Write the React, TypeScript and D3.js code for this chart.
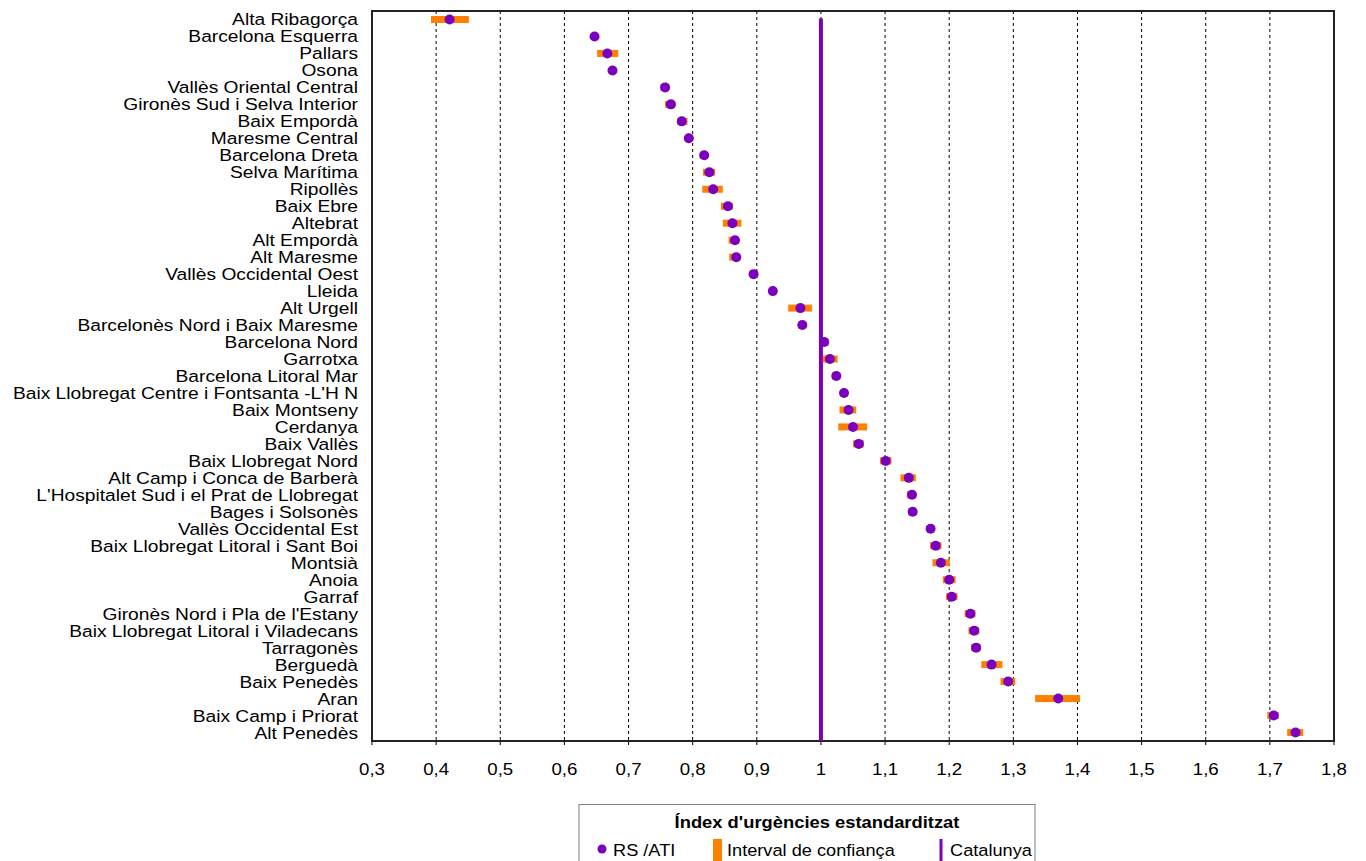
import React from "react";
import * as d3 from "d3";

const categories: string[] = [
  "Alta Ribagorça",
  "Barcelona Esquerra",
  "Pallars",
  "Osona",
  "Vallès Oriental Central",
  "Gironès Sud i Selva Interior",
  "Baix Empordà",
  "Maresme Central",
  "Barcelona Dreta",
  "Selva Marítima",
  "Ripollès",
  "Baix Ebre",
  "Altebrat",
  "Alt Empordà",
  "Alt Maresme",
  "Vallès Occidental Oest",
  "Lleida",
  "Alt Urgell",
  "Barcelonès Nord i Baix Maresme",
  "Barcelona Nord",
  "Garrotxa",
  "Barcelona Litoral Mar",
  "Baix Llobregat Centre i Fontsanta -L'H N",
  "Baix Montseny",
  "Cerdanya",
  "Baix Vallès",
  "Baix Llobregat Nord",
  "Alt Camp i Conca de Barberà",
  "L'Hospitalet Sud i el Prat de Llobregat",
  "Bages i Solsonès",
  "Vallès Occidental Est",
  "Baix Llobregat Litoral i Sant Boi",
  "Montsià",
  "Anoia",
  "Garraf",
  "Gironès Nord i Pla de l'Estany",
  "Baix Llobregat Litoral i Viladecans",
  "Tarragonès",
  "Berguedà",
  "Baix Penedès",
  "Aran",
  "Baix Camp i Priorat",
  "Alt Penedès",
];

const rsAti: number[] = [
  0.421, 0.647, 0.667, 0.675, 0.757, 0.766, 0.783, 0.794, 0.818, 0.826,
  0.832, 0.855, 0.862, 0.866, 0.868, 0.895, 0.925, 0.968, 0.971, 1.005,
  1.014, 1.024, 1.036, 1.043, 1.05, 1.059, 1.101, 1.137, 1.142, 1.143,
  1.171, 1.179, 1.187, 1.2, 1.204, 1.233, 1.239, 1.242, 1.266, 1.292,
  1.37, 1.706, 1.74,
];

const ciLow: number[] = [
  0.392, 0.644, 0.651, 0.672, 0.75, 0.757, 0.776, 0.788, 0.811, 0.816,
  0.815, 0.844, 0.847, 0.856, 0.857, 0.889, 0.921, 0.949, 0.965, 1.0,
  1.003, 1.017, 1.032, 1.029, 1.027, 1.05, 1.092, 1.124, 1.134, 1.136,
  1.166, 1.17, 1.174, 1.19, 1.195, 1.224, 1.23, 1.234, 1.25, 1.28,
  1.334, 1.696, 1.727,
];

const ciHigh: number[] = [
  0.451, 0.65, 0.684, 0.678, 0.762, 0.773, 0.792, 0.797, 0.822, 0.835,
  0.847, 0.863, 0.876, 0.872, 0.874, 0.897, 0.929, 0.986, 0.975, 1.012,
  1.026, 1.03, 1.04, 1.055, 1.072, 1.067, 1.11, 1.148, 1.148, 1.149,
  1.175, 1.188, 1.201, 1.21, 1.213, 1.241, 1.247, 1.249, 1.283, 1.303,
  1.404, 1.714, 1.752,
];

const catalunya = 1;
const xDomain: [number, number] = [0.3, 1.8];
const xTickValues: number[] = [0.3, 0.4, 0.5, 0.6, 0.7, 0.8, 0.9, 1, 1.1, 1.2, 1.3, 1.4, 1.5, 1.6, 1.7, 1.8];

const legendTitle = "Índex d'urgències estandarditzat";
const legendLabels = ["RS /ATI", "Interval de confiança", "Catalunya"];

const PURPLE = "#7a00bd";
const ORANGE = "#ff8000";
const FONT = "'Liberation Sans', Arial, sans-serif";
const FS = 17;

const locale = d3.formatLocale({ decimal: ",", thousands: ".", grouping: [3], currency: ["", "€"] });
const fmt = locale.format(".1~f");

function T(props: { x: number; y: number; anchor?: string; bold?: boolean; sx?: number; children: React.ReactNode }) {
  return (
    <text
      transform={`translate(${props.x},${props.y}) scale(${props.sx || 1.1},1)`}
      textAnchor={props.anchor || "start"}
      fontSize={FS}
      fontWeight={props.bold ? "bold" : "normal"}
      fill="#000"
    >
      {props.children}
    </text>
  );
}

export default function App() {
  const W = 1366;
  const H = 861;
  const left = 372;
  const right = 1334;
  const top = 11;
  const bottom = 741;

  const x = d3.scaleLinear().domain(xDomain).range([left, right]);
  const y = d3.scaleBand<string>().domain(categories).range([top, bottom]).padding(0);
  const yc = (c: string) => (y(c) as number) + y.bandwidth() / 2;

  return (
    <svg width={W} height={H} style={{ position: "absolute", left: 0, top: 0, background: "#fff" }} fontFamily={FONT}>
      <rect x={0} y={0} width={W} height={H} fill="#fff" />
      {xTickValues.slice(1, -1).map((t) => (
        <line key={"g" + t} x1={x(t)} x2={x(t)} y1={top} y2={bottom} stroke="#000" strokeWidth={1} strokeDasharray="3,3" />
      ))}
      {xTickValues.map((t) => (
        <line key={"tm" + t} x1={x(t)} x2={x(t)} y1={bottom} y2={bottom + 4} stroke="#000" strokeWidth={1} />
      ))}
      <rect x={left} y={top} width={right - left} height={bottom - top} fill="none" stroke="#222" strokeWidth={2} />
      <line x1={x(catalunya)} x2={x(catalunya)} y1={yc(categories[0]) - 1} y2={bottom} stroke={PURPLE} strokeWidth={4} />
      {categories.map((c, i) => (
        <rect key={"ci" + i} x={x(ciLow[i])} y={yc(c) - 3.5} width={Math.max(0, x(ciHigh[i]) - x(ciLow[i]))} height={7} fill={ORANGE} />
      ))}
      {categories.map((c, i) => (
        <circle key={"p" + i} cx={x(rsAti[i])} cy={yc(c)} r={5} fill={PURPLE} />
      ))}
      {categories.map((c, i) => (
        <T key={"l" + i} x={358} y={yc(c) + 6} anchor="end" sx={1.13}>
          {c}
        </T>
      ))}
      {xTickValues.map((t) => (
        <T key={"tl" + t} x={x(t)} y={775} anchor="middle">
          {fmt(t)}
        </T>
      ))}
      <g>
        <rect x={579} y={804.5} width={456} height={70} fill="#fff" stroke="#808080" strokeWidth={1} />
        <T x={817} y={828} anchor="middle" bold sx={1.08}>
          {legendTitle}
        </T>
        <circle cx={602} cy={849} r={4.5} fill={PURPLE} />
        <T x={613} y={856} sx={1.07}>{legendLabels[0]}</T>
        <rect x={713} y={839} width={9} height={22} fill={ORANGE} />
        <T x={727} y={856} sx={1.07}>{legendLabels[1]}</T>
        <line x1={941} x2={941} y1={839} y2={861} stroke={PURPLE} strokeWidth={3} />
        <T x={950} y={856} sx={1.07}>{legendLabels[2]}</T>
      </g>
    </svg>
  );
}
